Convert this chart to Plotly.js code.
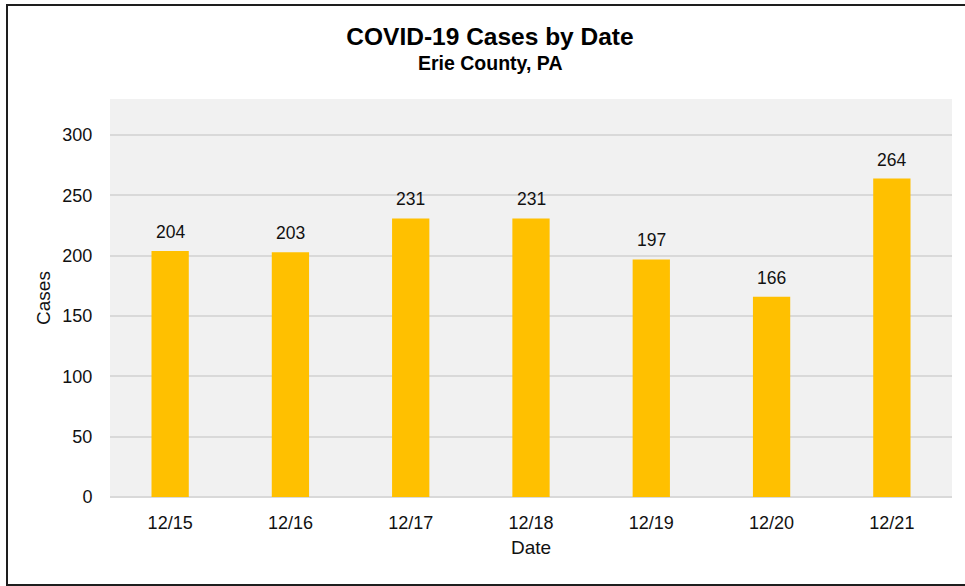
<!DOCTYPE html>
<html>
<head>
<meta charset="utf-8">
<script src="https://cdn.plot.ly/plotly-3.0.1.min.js"></script>
<style>
  html, body { margin: 0; padding: 0; background: #ffffff; overflow: hidden; }
  #chart { position: absolute; left: 0; top: 0; width: 965px; height: 586px; }
  #frame { position: absolute; left: 6px; top: 4px; width: 990px; height: 578px;
           border: 2px solid #1e1e1e; pointer-events: none; }
</style>
</head>
<body>
<div id="chart"></div>
<div id="frame"></div>
<script>
const dates = ["12/15", "12/16", "12/17", "12/18", "12/19", "12/20", "12/21"];
const cases = [204, 203, 231, 231, 197, 166, 264];
const yTicks = [0, 50, 100, 150, 200, 250, 300];

const FONT = "Liberation Sans, Arial, sans-serif";

const trace = {
  type: "bar",
  x: dates,
  y: cases,
  marker: { color: "#FFC000" },
  hoverinfo: "x+y"
};

const labels = dates.map((d, i) => ({
  x: d, y: cases[i], xref: "x", yref: "y",
  text: String(cases[i]), showarrow: false,
  yanchor: "bottom", yshift: 7,
  font: { family: FONT, size: 17.5, color: "#111111" }
}));

labels.push({
  xref: "paper", yref: "paper",
  x: (490 - 110) / 842, y: (497 - 63) / 398,
  xanchor: "center", yanchor: "middle",
  text: "<b>Erie County, PA</b>", showarrow: false,
  font: { family: FONT, size: 19.5, color: "#000000" }
});

const layout = {
  width: 965, height: 586,
  paper_bgcolor: "#ffffff",
  plot_bgcolor: "#f1f1f1",
  margin: { l: 110, r: 13, t: 99, b: 89 },
  bargap: 0.69,
  showlegend: false,
  font: { family: FONT, size: 18, color: "#111111" },
  title: {
    text: "<b>COVID-19 Cases by Date</b>",
    xref: "container", yref: "container",
    x: 490 / 965, y: 1 - 36 / 586,
    xanchor: "center", yanchor: "middle",
    font: { family: FONT, size: 24.5, color: "#000000" }
  },
  xaxis: {
    type: "category",
    categoryorder: "array", categoryarray: dates,
    ticks: "outside", ticklen: 9, tickcolor: "rgba(0,0,0,0)",
    showline: false, showgrid: false,
    tickfont: { family: FONT, size: 18, color: "#111111" },
    title: { text: "Date", standoff: 9, font: { family: FONT, size: 19, color: "#111111" } }
  },
  yaxis: {
    range: [0, 330],
    tickvals: yTicks,
    ticks: "outside", ticklen: 13, tickcolor: "rgba(0,0,0,0)",
    showgrid: true, gridcolor: "#d9d9d9", gridwidth: 1.5,
    zeroline: true, zerolinecolor: "#d9d9d9", zerolinewidth: 2,
    showline: false,
    tickfont: { family: FONT, size: 18, color: "#111111" },
    title: { text: "Cases", standoff: 6, font: { family: FONT, size: 19, color: "#111111" } }
  },
  annotations: labels
};

Plotly.newPlot("chart", [trace], layout, { displayModeBar: false });
</script>
</body>
</html>
